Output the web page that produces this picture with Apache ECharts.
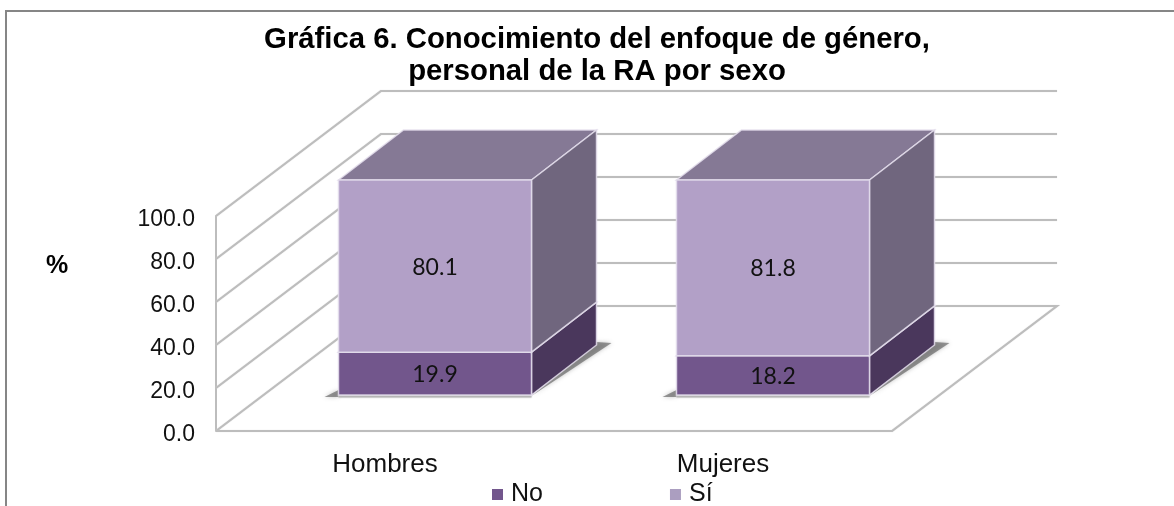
<!DOCTYPE html>
<html>
<head>
<meta charset="utf-8">
<title>Gráfica 6</title>
<script src="https://cdn.jsdelivr.net/npm/echarts@6/dist/echarts.min.js"></script>
<style>
  html, body { margin: 0; padding: 0; background: #fff; }
  #chart { width: 1174px; height: 506px; }
</style>
</head>
<body>
<div id="chart"></div>
<script>
// datos de la grafica
var categories = ['Hombres', 'Mujeres'];
var noValues = [19.9, 18.2];
var siValues = [80.1, 81.8];
var yTicks = [0, 20, 40, 60, 80, 100];

// perspectiva falsa: fondo de las paredes y profundidad de las barras
var WALL_DX = 165, WALL_DY = -125;
var BAR_DX = 65, BAR_DY = -50;
var BAR_SHIFT_X = 50, BAR_SHIFT_Y = -36, BAR_W = 193;
var WALL_COLOR = '#bdbdbd';
var EDGE = 'rgba(228,222,236,0.85)';

var myChart = echarts.init(document.getElementById('chart'));

function wallItem(params, api) {
  var g = params.coordSys;
  var y = api.coord([0, api.value(1)])[1];
  var left = g.x, bx = g.x + WALL_DX, by = y + WALL_DY;
  var pts = [[left, y], [bx, by], [g.x + g.width + WALL_DX, by]];
  // el piso se cierra con el borde frontal
  if (api.value(1) === 0) {
    pts.push([g.x + g.width, y], [left, y]);
  }
  return {
    type: 'polyline',
    shape: { points: pts },
    style: { fill: null, stroke: WALL_COLOR, lineWidth: 2, shadowBlur: 1, shadowColor: '#cfcfcf' }
  };
}

function boxItem(colors, withShadow) {
  return function (params, api) {
    var i = api.value(0);
    var base = api.coord([i, api.value(1)]);
    var top = api.coord([i, api.value(2)]);
    var x0 = base[0] + BAR_SHIFT_X - BAR_W / 2, x1 = x0 + BAR_W;
    var y0 = base[1] + BAR_SHIFT_Y, y1 = top[1] + BAR_SHIFT_Y;
    var soft = { fill: 'rgba(85,85,85,0.6)', shadowBlur: 4, shadowColor: 'rgba(85,85,85,0.6)' };
    var kids = [];
    if (withShadow) {
      // sombra suave sobre el piso
      kids.push({
        type: 'polygon',
        shape: { points: [[x0 - 14, y0 + 2], [x0, y0 + 2], [x0, y0 - 5]] },
        style: soft
      }, {
        type: 'polygon',
        shape: { points: [[x1, y0 + 1], [x1 + BAR_DX + 15, y0 + BAR_DY - 2], [x1 + BAR_DX, y0 + BAR_DY - 3]] },
        style: soft
      }, {
        type: 'line',
        shape: { x1: x0, y1: y0 + 1.5, x2: x1, y2: y0 + 1.5 },
        style: { stroke: '#b5b5b5', lineWidth: 2, shadowBlur: 2, shadowColor: '#c8c8c8' }
      });
    }
    kids.push({
      type: 'polygon',
      shape: { points: [[x0, y1], [x0 + BAR_DX, y1 + BAR_DY], [x1 + BAR_DX, y1 + BAR_DY], [x1, y1]] },
      style: { fill: colors.top, stroke: EDGE, lineWidth: 1.5 }
    }, {
      type: 'polygon',
      shape: { points: [[x1, y0], [x1, y1], [x1 + BAR_DX, y1 + BAR_DY], [x1 + BAR_DX, y0 + BAR_DY]] },
      style: { fill: colors.side, stroke: EDGE, lineWidth: 1.5 }
    }, {
      type: 'rect',
      shape: { x: x0, y: y1, width: BAR_W, height: y0 - y1 },
      style: { fill: colors.front, stroke: EDGE, lineWidth: 1.5 }
    }, {
      type: 'text',
      style: {
        text: (api.value(2) - api.value(1)).toFixed(1),
        x: (x0 + x1) / 2, y: (y0 + y1) / 2 + 1,
        align: 'center', verticalAlign: 'middle',
        fontFamily: 'Lato', fontSize: 23, fill: '#111'
      }
    });
    return { type: 'group', children: kids };
  };
}

var noColors = { front: '#72568c', side: '#4a375c', top: '#5e4873' };
var siColors = { front: '#b2a0c7', side: '#70667e', top: '#857995' };

myChart.setOption({
  animation: false,
  textStyle: { fontFamily: 'Liberation Sans' },
  title: {
    text: 'Gráfica 6. Conocimiento del enfoque de género,\npersonal de la RA por sexo',
    left: 592,
    top: 19,
    textAlign: 'center',
    textStyle: { fontSize: 29.3, fontWeight: 'bold', color: '#000', lineHeight: 32, fontFamily: 'Liberation Sans' }
  },
  grid: { left: 216, right: 282, top: 216, height: 215 },
  xAxis: {
    type: 'category',
    data: categories,
    axisLine: { show: false },
    axisTick: { show: false },
    axisLabel: { fontSize: 26, color: '#111', margin: 21 }
  },
  yAxis: {
    type: 'value',
    min: 0,
    max: 100,
    interval: 20,
    splitLine: { show: false },
    axisLine: { show: true, lineStyle: { color: WALL_COLOR, width: 2 } },
    axisTick: { show: false },
    axisLabel: {
      color: '#111',
      margin: 21,
      formatter: function (v) { return '{v|' + v.toFixed(1) + '}'; },
      rich: { v: { fontSize: 23, color: '#111', padding: [7, 0, 0, 0] } }
    }
  },
  legend: {
    left: 492,
    top: 482,
    padding: 0,
    itemWidth: 11,
    itemHeight: 11,
    itemGap: 127,
    icon: 'rect',
    data: ['No', 'Sí'],
    textStyle: { fontSize: 25, color: '#111', padding: [0, 0, 0, 3] }
  },
  graphic: [
    {
      type: 'polyline',
      shape: { points: [[6, 506], [6, 11], [1174, 11]] },
      style: { fill: null, stroke: '#868686', lineWidth: 2 }
    },
    {
      type: 'text',
      left: 46,
      top: 254,
      style: { text: '%', fontFamily: 'Liberation Sans', fontWeight: 'bold', fontSize: 25, fill: '#000' }
    }
  ],
  series: [
    {
      type: 'custom',
      silent: true,
      z: 1,
      renderItem: wallItem,
      data: yTicks.map(function (v) { return [0, v]; })
    },
    {
      name: 'No',
      type: 'custom',
      z: 2,
      itemStyle: { color: '#72568c' },
      renderItem: boxItem(noColors, true),
      encode: { x: 0, y: 2 },
      data: categories.map(function (c, i) { return [i, 0, noValues[i]]; })
    },
    {
      name: 'Sí',
      type: 'custom',
      z: 3,
      itemStyle: { color: '#ab9ec0' },
      renderItem: boxItem(siColors, false),
      encode: { x: 0, y: 2 },
      data: categories.map(function (c, i) { return [i, noValues[i], noValues[i] + siValues[i]]; })
    }
  ]
});
</script>
</body>
</html>
